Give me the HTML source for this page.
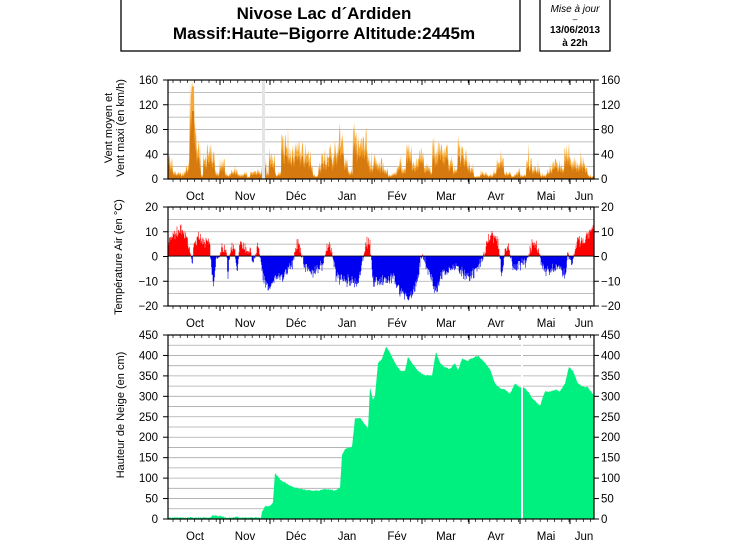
<!DOCTYPE html>
<html><head><meta charset="utf-8"><style>
body{margin:0;background:#fff;width:730px;height:545px;overflow:hidden}
svg text{font-family:"Liberation Sans",sans-serif}
</style></head><body>
<svg id="s" width="730" height="545" viewBox="0 0 730 545" xmlns="http://www.w3.org/2000/svg">
<rect x="121" y="-2" width="399" height="53" fill="#fff" stroke="#000" stroke-width="1.3"/>
<text x="324" y="19" font-size="17" font-weight="bold" text-anchor="middle">Nivose Lac d´Ardiden</text>
<text x="324" y="39" font-size="17" font-weight="bold" text-anchor="middle">Massif:Haute−Bigorre Altitude:2445m</text>
<rect x="540" y="-2" width="70" height="53" fill="#fff" stroke="#000" stroke-width="1.3"/>
<text x="575" y="12" font-size="10" font-style="italic" text-anchor="middle">Mise à jour</text>
<text x="575" y="22" font-size="8" text-anchor="middle">–</text>
<text x="575" y="33" font-size="10" font-weight="bold" text-anchor="middle">13/06/2013</text>
<text x="575" y="46" font-size="10" font-weight="bold" text-anchor="middle">à 22h</text>
<g id="g"></g>
</svg>
<script>
const g=document.getElementById('g');let h='';
const L=168,R=594;
let seed=7;function rnd(){seed=(seed*16807)%2147483647;return seed/2147483647;}
function interp(k,x){for(let i=0;i<k.length-1;i++){if(x>=k[i][0]&&x<=k[i+1][0]){const t=(x-k[i][0])/(k[i+1][0]-k[i][0]||1);return k[i][1]+t*(k[i+1][1]-k[i][1]);}}return k[k.length-1][1];}
const months=[["Oct",195],["Nov",245],["Déc",296],["Jan",347],["Fév",397],["Mar",446],["Avr",496],["Mai",546],["Jun",584]];
const bounds=[220,270,321,372,422,469,520,570];
function panel(top,bot,vmin,vmax,gstep,lstep,labY,fmt){
  const sc=(v)=>bot-(v-vmin)*(bot-top)/(vmax-vmin);
  for(let v=vmin+gstep;v<vmax;v+=gstep){h+=`<line x1="${L}" x2="${R}" y1="${sc(v)}" y2="${sc(v)}" stroke="#aaa" stroke-width="0.8"/>`;}
  for(let v=vmin;v<=vmax;v+=lstep){const y=sc(v);const t=fmt(v);
    h+=`<text x="158" y="${y+4}" font-size="11.5" text-anchor="end">${t}</text><text x="601" y="${y+4}" font-size="11.5">${t}</text>`;
    h+=`<line x1="${L-5}" x2="${L}" y1="${y}" y2="${y}" stroke="#000"/><line x1="${R}" x2="${R+5}" y1="${y}" y2="${y}" stroke="#000"/>`;}
  months.forEach(m=>h+=`<text x="${m[1]}" y="${labY}" font-size="11.5" text-anchor="middle">${m[0]}</text>`);
  return sc;
}
function frame(top,bot){
  h+=`<rect x="${L}" y="${top}" width="${R-L}" height="${bot-top}" fill="none" stroke="#000" stroke-width="1.2"/>`;
  for(let x=L+5;x<R;x+=7.2){h+=`<line x1="${x}" x2="${x}" y1="${bot}" y2="${bot+3}" stroke="#000" stroke-width="0.7"/><line x1="${x}" x2="${x}" y1="${top}" y2="${top+3}" stroke="#000" stroke-width="0.7"/>`;}
  bounds.forEach(x=>h+=`<line x1="${x}" x2="${x}" y1="${bot}" y2="${bot+5}" stroke="#000"/><line x1="${x}" x2="${x}" y1="${top}" y2="${top+5}" stroke="#000"/>`);
}
// Panel 1 wind
let sc=panel(80,179,0,160,20,40,200,v=>v);
const wk=[[168,18],[185,22],[190,60],[193,100],[197,25],[210,22],[220,20],[235,12],[250,10],[262,12],[270,30],[280,35],[300,40],[315,18],[330,35],[350,45],[365,45],[375,30],[385,12],[395,20],[400,55],[405,30],[420,35],[440,35],[455,30],[465,35],[475,15],[490,12],[500,20],[510,8],[520,15],[540,20],[555,30],[560,35],[575,20],[594,12]];
let pm='M'+L+' 179',px='M'+L+' 179';
let storm=1,sp=0;
for(let x=L;x<=R;x+=0.5){
 if(x>=sp){sp=x+2+rnd()*5;storm=0.25+1.5*Math.pow(rnd(),1.3);}
 let b=interp(wk,x)*storm;let n=rnd();let m=b*(0.4+0.6*n);if(Math.abs(x-193)<1.5)m=110;
 let mx=m*(1.25+0.5*rnd());if(rnd()>0.985)mx=Math.min(mx*1.6,90);if(Math.abs(x-193)<1)mx=150;
 pm+=` L${x} ${sc(Math.min(m,160))}`;px+=` L${x} ${sc(Math.min(mx,160))}`;}
pm+=` L${R} 179 Z`;px+=` L${R} 179 Z`;
h+=`<path d="${px}" fill="#f7a830"/><path d="${pm}" fill="#d67a10"/>`;
h+=`<rect x="262" y="80" width="3" height="99" fill="#e4e4e4"/>`;
frame(80,179);
h+=`<text transform="translate(112,128) rotate(-90)" font-size="11" text-anchor="middle">Vent moyen et</text><text transform="translate(124,128) rotate(-90)" font-size="11" text-anchor="middle">Vent maxi (en km/h)</text>`;
// Panel 2 temp
sc=panel(207,306,-20,20,5,10,327,v=>v<0?'−'+(-v):v);
const tk=[[168,6],[182,12],[189,4],[191,1],[192,-5],[194,5],[200,8],[210,4],[213,-12],[216,-3],[222,4],[226,3],[228,-8],[231,5],[235,2],[237,-6],[240,5],[250,3],[253,-2],[258,4],[261,-2],[263,-8],[270,-13],[276,-8],[283,-9],[288,-4],[292,-3],[297,5],[300,3],[305,-5],[312,-6],[318,-5],[323,-3],[328,5],[332,2],[336,-8],[345,-10],[352,-10],[358,-12],[362,-3],[366,6],[370,5],[373,-10],[385,-10],[395,-9],[400,-14],[410,-17],[416,-12],[422,1],[425,-2],[432,-10],[437,-14],[443,-6],[450,-5],[455,-4],[462,-7],[470,-9],[476,-6],[482,-2],[486,5],[492,9],[498,6],[502,-7],[505,3],[509,4],[513,-6],[516,-4],[520,-3],[526,-3],[532,5],[538,4],[542,-5],[552,-6],[560,-4],[565,-8],[568,2],[572,-4],[577,6],[585,7],[590,9],[594,11]];
let pp='',pn='';
for(let x=L;x<R;x+=0.5){let v=interp(tk,x)+(rnd()-0.5)*6*(0.4+0.6*rnd());if(Math.abs(interp(tk,x))<2)v*=0.6;
 const y=sc(Math.max(-20,Math.min(20,v)));
 if(v>=0)pp+=`M${x} 256V${y}`;else pn+=`M${x} 256V${y}`;}
h+=`<path d="${pp}" stroke="#f00" stroke-width="0.6" fill="none"/><path d="${pn}" stroke="#0000f0" stroke-width="0.6" fill="none"/>`;
h+=`<line x1="${L}" x2="${R}" y1="256" y2="256" stroke="#000" stroke-width="0.8"/>`;
frame(207,306);
h+=`<text transform="translate(122,257) rotate(-90)" font-size="11" text-anchor="middle">Température Air (en °C)</text>`;
// Panel 3 snow
sc=panel(335,519,0,450,25,50,540,v=>v);
const sk=[[168,2],[210,2],[212,7],[222,5],[225,2],[232,2],[236,4],[240,2],[261,2],[262,15],[265,30],[270,30],[273,40],[275,112],[280,95],[290,80],[300,72],[310,68],[320,68],[325,72],[335,68],[340,75],[342,155],[345,170],[352,175],[355,245],[360,245],[365,230],[368,220],[370,320],[373,290],[375,300],[378,380],[382,390],[386,420],[390,405],[395,380],[400,362],[405,360],[408,395],[412,380],[418,360],[425,350],[432,350],[436,408],[440,380],[445,370],[450,365],[455,380],[458,362],[462,390],[468,385],[470,390],[478,398],[485,380],[490,365],[495,330],[500,318],[505,315],[510,305],[515,330],[520,320],[524,320],[528,310],[532,295],[536,285],[540,275],[542,290],[545,310],[550,310],[555,315],[560,310],[565,330],[569,370],[573,360],[578,330],[583,322],[588,320],[594,300]];
let ps='M'+L+' 519';for(let x=L;x<=R;x+=0.5){let v=interp(sk,x)+rnd()*3;ps+=` L${x} ${sc(v)}`;}
ps+=` L${R} 519 Z`;
h+=`<path d="${ps}" fill="#00f080"/><rect x="521" y="335" width="2" height="184" fill="#fff"/>`;
frame(335,519);
h+=`<text transform="translate(124,415) rotate(-90)" font-size="11" text-anchor="middle">Hauteur de Neige (en cm)</text>`;
g.innerHTML=h;
</script>
</body></html>
